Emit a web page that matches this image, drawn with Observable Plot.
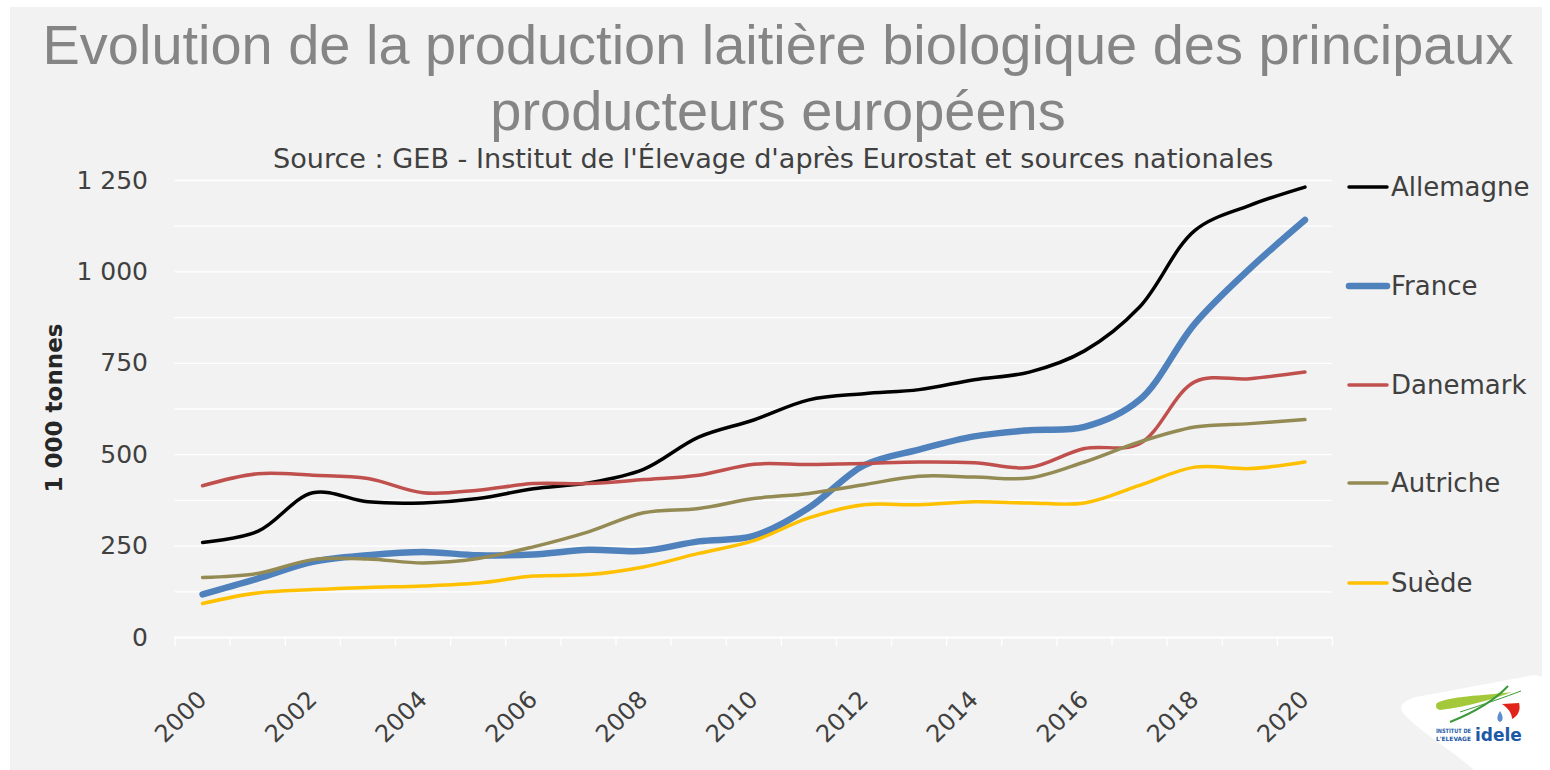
<!DOCTYPE html>
<html><head><meta charset="utf-8">
<script src="https://cdn.jsdelivr.net/npm/d3@7"></script>
<script src="https://cdn.jsdelivr.net/npm/@observablehq/plot@0.6"></script>
<style>
body{margin:0;background:#fff;}
#wrap{position:relative;width:1550px;height:770px;overflow:hidden;background:#fff;font-family:"DejaVu Sans",sans-serif;}
#panel{position:absolute;left:10px;top:7px;width:1532px;height:763px;background:#f2f2f2;}
#chart{position:absolute;left:0;top:0;}
#over{position:absolute;left:0;top:0;pointer-events:none;}
</style></head><body>
<div id="wrap"><div id="panel"></div><div id="chart"></div><svg id="over" width="1550" height="770"></svg></div>
<script>
// ---- data (1 000 tonnes) ----
const years = [2000,2001,2002,2003,2004,2005,2006,2007,2008,2009,2010,2011,2012,2013,2014,2015,2016,2017,2018,2019,2020];
const allemagne = [260,290,396,371,368,380,407,423,460,548,595,650,667,678,705,726,784,904,1113,1182,1232];
const france    = [118,161,207,225,234,225,227,240,237,263,278,355,471,514,550,567,576,650,858,1009,1142];
const danemark  = [415,448,444,435,396,403,421,421,432,444,474,473,476,480,478,465,517,530,699,708,726];
const autriche  = [164,175,213,215,204,216,248,289,341,353,380,394,418,441,439,436,480,535,576,585,596];
const suede     = [93,122,131,137,141,149,168,172,193,230,265,327,363,363,371,368,368,416,466,462,480];
const seriesNames = ["Allemagne","France","Danemark","Autriche","Suède"];
const seriesColors = ["#000000","#4f81bd","#c0504d","#948a54","#ffc000"];
const seriesWidths = [3.5,6.5,3.5,3.5,3.5];
const yTicks = [0,250,500,750,1000,1250];
const xLabelYears = [2000,2002,2004,2006,2008,2010,2012,2014,2016,2018,2020];
const titleLines = ["Evolution de la production laitière biologique des principaux","producteurs européens"];
const subtitle = "Source : GEB - Institut de l'Élevage d'après Eurostat et sources nationales";
const yLabel = "1 000 tonnes";

const allValues = [allemagne, france, danemark, autriche, suede];
const fmt = d => d >= 1000 ? `${Math.floor(d/1000)} ${String(d%1000).padStart(3,"0")}` : String(d);
const boundaries = d3.range(years.length + 1).map(i => years[0] - 0.5 + i);
const grid = d3.range(125, 1251, 125);

const lineMarks = seriesNames.map((name, k) =>
  Plot.line(years.map((y, i) => ({year: y, value: allValues[k][i], name})), {
    x: "year", y: "value", stroke: seriesColors[k], strokeWidth: seriesWidths[k],
    curve: "catmull-rom", strokeLinecap: "round", strokeLinejoin: "round"
  })
);

const chart = Plot.plot({
  width: 1550, height: 770,
  marginLeft: 174.5, marginRight: 218, marginTop: 180, marginBottom: 133,
  style: {background: "transparent", color: "#404040", fontFamily: "DejaVu Sans", overflow: "visible"},
  x: {type: "linear", domain: [years[0] - 0.5, years[years.length - 1] + 0.5], label: null},
  y: {domain: [0, 1250], label: null},
  marks: [
    Plot.gridY(grid, {stroke: "#ffffff", strokeOpacity: 1, strokeWidth: 1.3}),
    Plot.ruleY([0], {stroke: "#ffffff", strokeWidth: 2}),
    Plot.axisX(boundaries, {tickSize: 9, stroke: "#ffffff", strokeWidth: 1.3, tickFormat: () => "", label: null}),
    Plot.axisX(xLabelYears, {tickSize: 0, tickRotate: -45, tickPadding: 58, fontSize: 24, fill: "#404040", tickFormat: d => String(d), label: null}),
    Plot.axisY(yTicks, {tickSize: 0, tickPadding: 27, fontSize: 25, fill: "#404040", tickFormat: fmt, label: null}),
    ...lineMarks
  ]
});
document.getElementById("chart").appendChild(chart);

// ---- overlay: title, subtitle, axis title, legend, logo ----
const ns = "http://www.w3.org/2000/svg";
const over = document.getElementById("over");
function el(tag, attrs, text) {
  const e = document.createElementNS(ns, tag);
  for (const k in attrs) e.setAttribute(k, attrs[k]);
  if (text != null) e.textContent = text;
  over.appendChild(e);
  return e;
}
function fit(e, target) {
  const w = e.getComputedTextLength();
  const fs = parseFloat(e.getAttribute("font-size"));
  const nf = fs * target / w;
  e.setAttribute("font-size", nf);
  return nf;
}
const t1 = el("text", {x: 778, y: 64, "text-anchor": "middle", "font-family": "Liberation Sans", "font-size": 50, fill: "#858585"}, titleLines[0]);
const tfs = fit(t1, 1471);
el("text", {x: 778, y: 130, "text-anchor": "middle", "font-family": "Liberation Sans", "font-size": tfs, fill: "#858585"}, titleLines[1]);
const st = el("text", {x: 273, y: 168, "font-family": "DejaVu Sans", "font-size": 25, fill: "#404040"}, subtitle);
fit(st, 1001);
el("text", {transform: "translate(62,408) rotate(-90)", "text-anchor": "middle", "font-family": "DejaVu Sans", "font-weight": "bold", "font-size": 23, fill: "#262626"}, yLabel);

const legendY = [187, 286, 385, 483, 583];
seriesNames.forEach((name, k) => {
  el("line", {x1: 1349, x2: 1387, y1: legendY[k], y2: legendY[k], stroke: seriesColors[k], "stroke-width": seriesWidths[k], "stroke-linecap": "round"});
  el("text", {x: 1391, y: legendY[k] + 9, "font-family": "DejaVu Sans", "font-size": 26, fill: "#404040"}, name);
});

// logo
el("path", {d: "M1403,713 C1398,705 1405,700 1416,697 L1528,676 C1543,673 1550,680 1550,692 L1550,770 L1474,770 C1452,750 1422,734 1403,713 Z", fill: "#ffffff"});
el("path", {d: "M1437,703 C1450,696 1480,696 1512,692 C1490,700 1470,706 1440,710 C1436,709 1435,706 1437,703 Z", fill: "#a3c83a"});
el("path", {d: "M1450,722 C1475,712 1495,700 1508,686", fill: "none", stroke: "#3d9a3a", "stroke-width": 2});
el("path", {d: "M1460,712 C1485,704 1505,697 1521,691", fill: "none", stroke: "#3d9a3a", "stroke-width": 1});
el("path", {d: "M1502,704 L1519,703 C1521,710 1518,716 1512,719 C1512,713 1508,708 1502,704 Z", fill: "#e2231a"});
el("path", {d: "M1500,711 C1503,716 1504,720 1500,722 C1496,720 1497,716 1500,711 Z", fill: "#5b8fcf"});
el("text", {x: 1436, y: 733, "font-family": "DejaVu Sans", "font-weight": "bold", "font-size": 6, textLength: 35, lengthAdjust: "spacingAndGlyphs", fill: "#1d5aa5"}, "INSTITUT DE");
el("text", {x: 1436, y: 741, "font-family": "DejaVu Sans", "font-weight": "bold", "font-size": 6, textLength: 35, lengthAdjust: "spacingAndGlyphs", fill: "#1d5aa5"}, "L'ELEVAGE");
el("text", {x: 1475, y: 741, "font-family": "DejaVu Sans", "font-weight": "bold", "font-size": 17, fill: "#1d5aa5"}, "idele");
</script>
</body></html>
